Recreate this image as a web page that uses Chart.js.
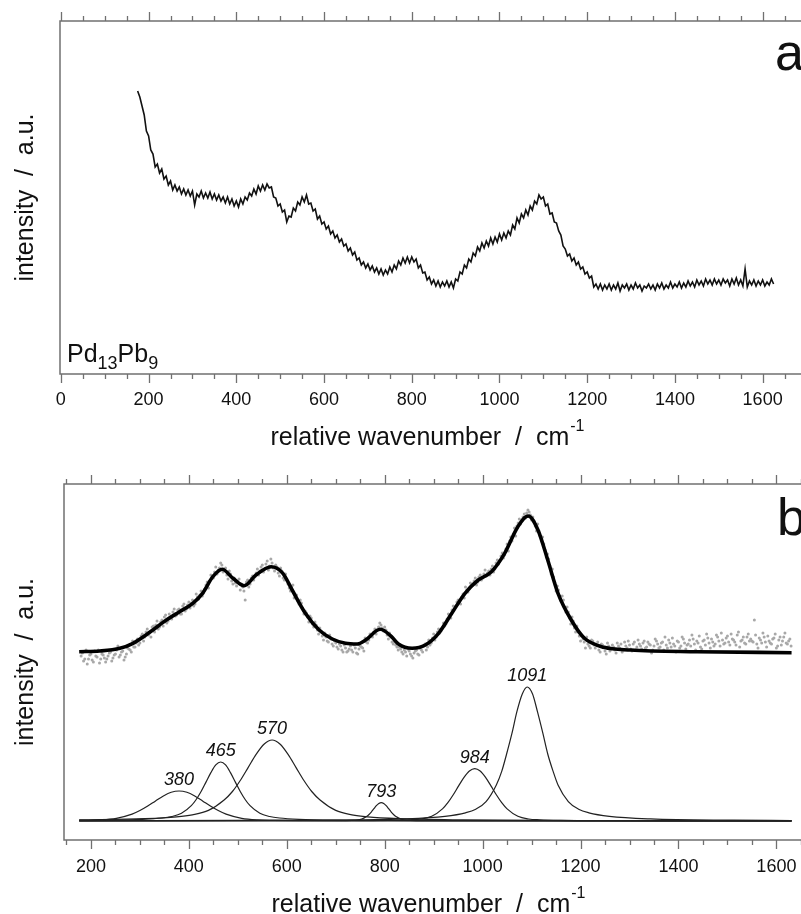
<!DOCTYPE html>
<html>
<head>
<meta charset="utf-8">
<script src="https://cdn.jsdelivr.net/npm/chart.js@4.4.0/dist/chart.umd.min.js"></script>
<style>
  html, body { margin: 0; padding: 0; background: #fff; overflow: hidden; }
  body { width: 801px; height: 914px; position: relative; }
  canvas { position: absolute; left: 0; }
  #chartA { top: 0; }
  #chartB { top: 460px; }
</style>
</head>
<body>
<canvas id="chartA" width="860" height="460"></canvas>
<canvas id="chartB" width="860" height="454"></canvas>
<script>
// panel a: raw spectrum, sampled every 5 cm-1 from 175
const aStart = 175, aStep = 5;
const aValues = [
  283,277,268,259,243,238,224,220,207,210,
  201,205,195,198,189,193,184,189,183,187,
  180,185,179,184,178,183,169,180,177,183,
  176,181,176,182,175,180,174,179,173,177,
  171,177,170,175,168,173,167,175,170,177,
  174,181,178,185,180,188,183,189,184,190,
  186,187,177,176,168,170,162,164,152,158,
  157,166,163,172,169,177,172,179,170,171,
  163,165,155,158,150,152,145,148,140,143,
  136,139,132,135,128,130,123,126,119,122,
  114,116,109,112,106,110,104,108,102,106,
  100,105,99,104,100,107,102,109,105,113,
  109,116,111,117,111,117,112,115,106,109,
  101,102,94,97,90,94,88,93,87,92,
  88,93,87,92,86,95,93,102,100,109,
  106,115,112,121,118,127,123,131,126,133,
  128,136,130,137,132,140,134,141,136,143,
  139,149,145,156,151,160,156,164,159,168,
  164,173,170,179,175,177,168,170,160,161,
  152,151,143,139,128,125,118,120,113,116,
  109,112,105,107,100,102,96,98,87,90,
  85,90,84,89,85,90,84,89,85,91,
  83,89,86,90,84,89,85,91,86,89,
  83,88,86,90,85,89,84,90,86,91,
  85,89,86,92,86,90,87,92,86,91,
  87,93,88,92,87,94,89,93,88,95,
  90,94,89,95,90,94,89,95,91,94,
  88,95,90,96,89,94,88,105,87,93,
  89,94,88,93,89,94,88,92,89,95,
  90
];
const aTicks = [0, 200, 400, 600, 800, 1000, 1200, 1400, 1600];

// panel b: measured points (grey dots), every 5 cm-1 from 180 ...
const bDotStart = 180, bDotStep = 5;
const bDots = [
  184,179,190,181,186,178,184,190,181,185,
  178,184,188,182,186,194,185,189,183,192,
  190,199,193,201,197,206,203,211,207,213,
  208,219,213,220,223,217,226,221,231,225,
  231,226,236,231,238,237,234,246,241,249,
  247,255,252,265,262,273,270,277,268,272,
  261,266,256,257,259,250,253,240,260,256,
  264,263,271,269,275,271,279,274,277,269,
  273,264,269,260,261,252,253,242,245,236,
  237,226,227,218,222,213,215,206,209,200,
  203,198,201,194,197,191,194,188,192,189,
  194,188,192,186,194,192,202,197,206,203,
  211,210,217,212,213,205,207,198,198,193,
  193,188,190,184,189,184,187,190,185,190,
  194,190,200,197,206,203,211,209,217,216,
  226,222,234,234,240,236,246,253,248,257,
  256,262,258,265,262,270,267,265,274,271,
  280,279,287,285,296,299,299,312,314,321,
  320,326,327,328,320,319,309,309,299,296,
  283,281,266,263,249,250,239,240,228,228,
  216,219,208,208,199,201,192,196,192,199,
  192,198,188,195,189,197,189,195,190,197,
  192,188,198,192,195,189,198,193,196,191,
  199,193,196,187,194,199,192,197,190,195,
  200,193,196,188,198,194,201,191,196,194,
  201,190,197,193,199,195,202,192,198,196,
  203,194,200,197,204,195,201,198,205,193,
  200,197,203,199,199,220,196,202,197,203,
  193,199,196,202,192,200,195,203,197,199,
  194
];
// ... and the points in between, from 182.5
const bDot2Start = 182.5;
const bDots2 = [
  187,181,176,185,180,189,183,177,186,182,
  181,187,179,185,190,183,188,180,186,191,
  188,193,197,195,204,199,208,205,203,214,
  215,211,218,214,225,219,222,228,224,230,
  226,234,229,235,232,240,236,243,245,244,
  251,258,259,262,268,266,272,275,271,265,
  269,259,262,254,261,256,249,258,253,262,
  260,267,265,273,268,276,270,281,272,275,
  267,272,262,266,256,249,255,244,239,240,
  232,229,223,224,216,218,210,212,204,207,
  199,205,196,199,193,196,190,195,188,191,
  190,195,187,191,193,189,198,200,204,208,
  206,213,215,209,210,201,203,196,195,190,
  191,186,188,191,186,182,189,186,192,188,
  196,193,195,202,200,208,207,212,214,221,
  224,230,231,238,238,243,242,250,252,254,
  259,255,263,260,266,264,269,271,268,277,
  276,284,282,291,289,303,306,304,317,316,
  323,322,330,325,323,314,316,304,303,290,
  286,274,271,258,254,244,244,233,233,222,
  223,212,214,204,205,198,203,194,200,195,
  195,190,196,192,186,194,191,193,187,194,
  196,190,194,199,191,196,190,200,194,197,
  192,198,195,190,201,196,193,198,203,192,
  197,202,194,199,192,203,197,195,200,205,
  196,199,204,191,200,206,197,201,194,205,
  199,207,196,202,198,206,200,195,208,199,
  203,196,206,201,198,205,192,200,207,198,
  204,197,201,206,194,203,199,207,196,201
];

// fitted envelope
const bFitX = [176,218,259,286,320,354,381,408,428,449,468,490,513,537,568,592,611,638,666,693,720,744,761,791,814,828,856,883,910,937,964,991,1018,1045,1072,1093,1113,1133,1154,1181,1208,1248,1302,1438,1631];
const bFitY = [188.3,189,191.7,196.7,207.7,220,228.3,236.7,246.7,263.3,270.7,261.7,254.3,265,273.3,266.7,250,226.7,210,201,196.7,196,200,210.7,203.3,196,191.7,195,206.7,226.7,246.7,260,268.3,286.7,313.3,324,310,280,246.7,220,201.7,192.7,190,188.3,187.3];

// component bands
const c380X = [176,188,220,252,284,300,316,332,348,364,380,396,412,428,444,460,476,508,540,572,636,764,1631];
const c380Y = [19.6,19.7,20.1,21.7,25.9,29.5,34,39.1,44,47.7,49,47.7,44,39.1,34,29.5,25.9,21.7,20.1,19.7,19.4,19.2,19];
const c465X = [176,225,305,345,365,385,405,415,425,435,445,455,465,475,485,495,505,515,525,545,565,585,625,705,865,1631];
const c465Y = [19.6,19.8,20.7,22,23.5,26.7,34.3,40.5,48.5,57.9,67.4,75.1,78,75.1,67.4,57.9,48.5,40.5,34.3,26.7,23.5,22,20.7,19.8,19.3,19];
const c570X = [176,310,375,407,440,472,489,505,521,537,554,570,586,603,619,635,651,668,700,733,765,830,960,1200,1631];
const c570Y = [20.1,21.3,23.1,25.2,29.6,40,48.5,59.5,72.4,85.4,96,100,96,85.4,72.4,59.5,48.5,40,29.6,25.2,23.1,21.3,20.1,19.4,19.2];
const c793X = [176,713,733,743,753,763,768,773,778,783,788,793,798,803,808,813,818,823,833,843,853,873,1631];
const c793Y = [19,19.3,19.6,19.9,20.9,23.4,25.5,28.2,31.3,34.3,36.5,37.4,36.5,34.3,31.3,28.2,25.5,23.4,20.9,19.9,19.6,19.3,19];
const c984X = [176,720,808,852,874,896,918,929,940,951,962,973,984,995,1006,1017,1028,1039,1050,1072,1094,1116,1160,1248,1631];
const c984Y = [19,19.3,19.6,20.2,21,23.7,31.1,37.3,45.2,54.1,62.6,69,71.4,69,62.6,54.1,45.2,37.3,31.1,23.7,21,20.2,19.6,19.3,19];
const c1091X = [176,671,839,923,965,986,1007,1028,1039,1049,1060,1070,1081,1091,1102,1112,1123,1133,1144,1154,1175,1196,1217,1259,1343,1511,1631];
const c1091Y = [19.2,19.8,21.1,23.7,27.2,30.8,38.4,55,68.6,86,106.8,128.3,146,153,146,128.3,106.8,86,68.6,55,38.4,30.8,27.2,23.7,21.1,19.8,19.5];

const peakCenters = [380, 465, 570, 793, 984, 1091];
const peakLabels = ['380', '465', '570', '793', '984', '1091'];
const bTicks = [200, 400, 600, 800, 1000, 1200, 1400, 1600];

const FONT = '"Liberation Sans", Arial, Helvetica, sans-serif';
const frameColor = '#707070';

function xy(xs, ys) {
    return xs.map((x, i) => ({ x: x, y: ys[i] }));
}

function grid(start, step, ys) {
    return ys.map((v, i) => ({ x: start + i * step, y: v }));
}

// frame, tick marks and all the text that Chart.js cannot lay out itself
function decor(o) {
    return {
        id: 'decor' + o.letter,
        afterDraw(chart) {
            const { ctx, chartArea: a, scales: { x, y } } = chart;
            ctx.save();
            ctx.strokeStyle = frameColor;
            ctx.lineWidth = 1.5;
            ctx.beginPath();
            ctx.moveTo(a.right, a.top);
            ctx.lineTo(a.left, a.top);
            ctx.lineTo(a.left, a.bottom);
            ctx.lineTo(a.right, a.bottom);
            ctx.stroke();

            ctx.lineWidth = 1.3;
            ctx.beginPath();
            for (let v = o.firstTick; v <= x.max; v += 50) {
                const px = Math.round(x.getPixelForValue(v)) + 0.5;
                const len = v % 200 === 0 ? 9 : 5;
                ctx.moveTo(px, a.top);
                ctx.lineTo(px, a.top - len);
                ctx.moveTo(px, a.bottom);
                ctx.lineTo(px, a.bottom + len);
            }
            ctx.stroke();

            ctx.fillStyle = '#111';
            ctx.textAlign = 'left';
            ctx.textBaseline = 'alphabetic';

            // x title with superscript
            const main = 'relative wavenumber  /  cm';
            ctx.font = '25px ' + FONT;
            const w1 = ctx.measureText(main).width;
            ctx.font = '16px ' + FONT;
            const w2 = ctx.measureText('-1').width;
            const sx = o.titleCx - (w1 + w2) / 2;
            ctx.font = '25px ' + FONT;
            ctx.fillText(main, sx, o.titleY);
            ctx.font = '16px ' + FONT;
            ctx.fillText('-1', sx + w1 + 1, o.titleY - 14);

            // panel letter
            ctx.font = '52px ' + FONT;
            ctx.fillText(o.letter, o.letterX, o.letterY);

            if (o.drawExtra) o.drawExtra(ctx, x, y, a);

            // y title
            ctx.font = '25px ' + FONT;
            ctx.textAlign = 'center';
            ctx.translate(33, (a.top + a.bottom) / 2);
            ctx.rotate(-Math.PI / 2);
            ctx.fillText('intensity  /  a.u.', 0, 0);
            ctx.restore();
        }
    };
}

function xScale(min, max, ticks, height, pad) {
    return {
        type: 'linear',
        min: min,
        max: max,
        grid: { display: false, drawTicks: false },
        border: { display: false },
        afterBuildTicks: axis => { axis.ticks = ticks.map(v => ({ value: v })); },
        afterFit: axis => { axis.height = height; },
        ticks: {
            autoSkip: false,
            maxRotation: 0,
            padding: pad,
            color: '#111',
            font: { family: FONT, size: 18 },
            callback: v => String(v)
        }
    };
}

Chart.defaults.animation = false;

// 拉曼光谱 a
new Chart(document.getElementById('chartA'), {
    type: 'scatter',
    data: {
        datasets: [{
            data: grid(aStart, aStep, aValues),
            showLine: true,
            borderColor: '#111',
            borderWidth: 1.6,
            pointRadius: 0,
            tension: 0
        }]
    },
    options: {
        responsive: false,
        layout: { padding: { left: 60, top: 21, right: 0, bottom: 0 } },
        plugins: { legend: { display: false }, tooltip: { enabled: false } },
        scales: {
            x: xScale(-2, 1822, aTicks, 86, 15),
            y: { display: false, min: 0, max: 353 }
        }
    },
    plugins: [decor({
        letter: 'a', letterX: 775, letterY: 70,
        firstTick: 0, titleCx: 427, titleY: 445,
        drawExtra(ctx) {
            // Pd13Pb9
            let px = 67;
            const parts = [['Pd', 25, 0], ['13', 18, 7], ['Pb', 25, 0], ['9', 18, 7]];
            parts.forEach(([t, size, dy]) => {
                ctx.font = size + 'px ' + FONT;
                ctx.fillText(t, px, 362 + dy);
                px += ctx.measureText(t).width;
            });
        }
    })]
});

// 拉曼光谱 b, 拟合结果
const compStyle = { showLine: true, borderColor: '#222', borderWidth: 1.2, pointRadius: 0, cubicInterpolationMode: 'monotone' };
const comps = [[c380X, c380Y], [c465X, c465Y], [c570X, c570Y], [c793X, c793Y], [c984X, c984Y], [c1091X, c1091Y]];
const dotStyle = { showLine: false, pointRadius: 1.5, pointBorderWidth: 0, backgroundColor: '#a8a8a8' };

new Chart(document.getElementById('chartB'), {
    type: 'scatter',
    data: {
        datasets: [{
            data: xy(bFitX, bFitY),
            showLine: true,
            borderColor: '#000',
            borderWidth: 3.6,
            pointRadius: 0,
            cubicInterpolationMode: 'monotone'
        },
        Object.assign({ data: grid(bDotStart, bDotStep, bDots) }, dotStyle),
        Object.assign({ data: grid(bDot2Start, bDotStep, bDots2) }, dotStyle)
        ].concat(comps.map(c => Object.assign({ data: xy(c[0], c[1]) }, compStyle)))
    },
    options: {
        responsive: false,
        layout: { padding: { left: 64, top: 24, right: 0, bottom: 0 } },
        plugins: { legend: { display: false }, tooltip: { enabled: false } },
        scales: {
            x: xScale(145, 1762.6, bTicks, 74, 16),
            y: { display: false, min: 0, max: 356 }
        }
    },
    plugins: [decor({
        letter: 'b', letterX: 777, letterY: 75,
        firstTick: 150, titleCx: 428, titleY: 452,
        drawExtra(ctx, x, y) {
            ctx.font = 'italic 18px ' + FONT;
            ctx.textAlign = 'center';
            peakCenters.forEach((c, i) => {
                const top = Math.max.apply(null, comps[i][1]);
                ctx.fillText(peakLabels[i], x.getPixelForValue(c), y.getPixelForValue(top) - 6);
            });
            ctx.textAlign = 'left';
        }
    })]
});
</script>
</body>
</html>
